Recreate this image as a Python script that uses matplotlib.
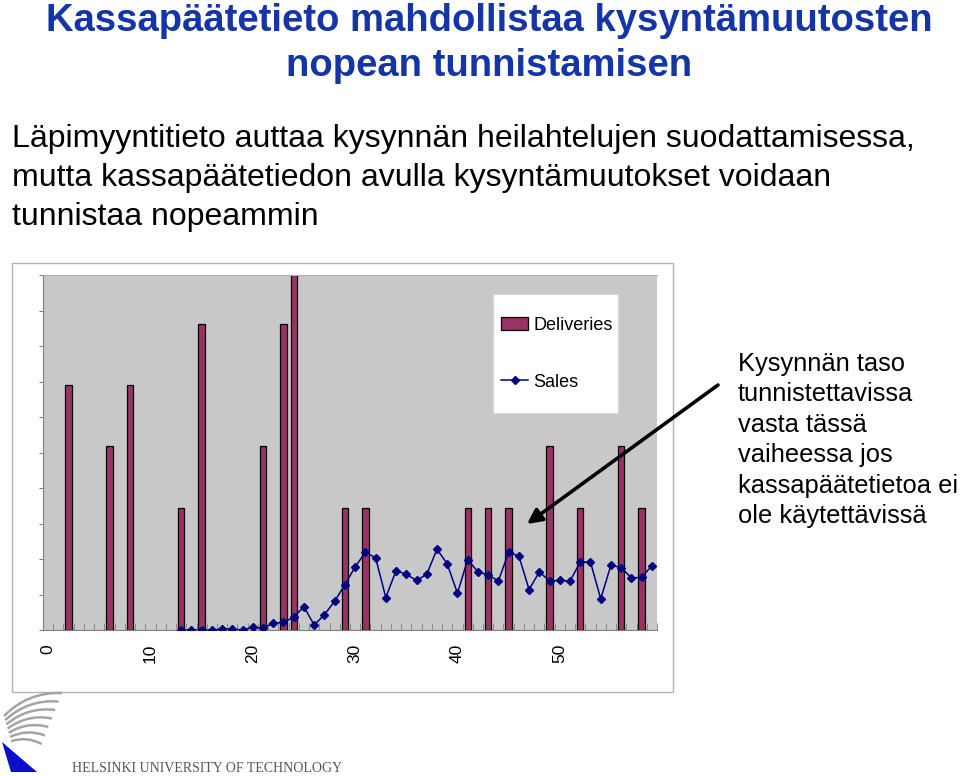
import numpy as np
import matplotlib
matplotlib.use("Agg")
import matplotlib.pyplot as plt
from matplotlib.patches import Rectangle, Polygon, PathPatch
from matplotlib.path import Path

plt.rcParams['font.family'] = ['Liberation Sans', 'DejaVu Sans']

# data
days = np.arange(60)
delivery_days = [2, 6, 8, 13, 15, 21, 23, 24, 29, 31, 41, 43, 45, 49, 52, 56, 58]
delivery_qty = [40, 30, 40, 20, 50, 30, 50, 60, 20, 20, 20, 20, 20, 30, 20, 30, 20]
sales_days = list(range(13, 60))
sales = [0, 0, 0, 0, 0.15, 0.15, 0, 0.45, 0.3, 1.1, 1.25, 2.1, 3.8, 0.8, 2.5, 4.7,
         7.4, 10.3, 12.7, 11.8, 5.3, 9.7, 9.1, 8.1, 9.1, 13.2, 10.8, 6.0, 11.5, 9.5,
         9.0, 8.0, 12.7, 12.1, 6.6, 9.5, 8.0, 8.1, 8.0, 11.1, 11.1, 5.1, 10.6, 10.2,
         8.5, 8.6, 10.5]
xtick_labels = [0, 10, 20, 30, 40, 50]

title_lines = ["Kassapäätetieto mahdollistaa kysyntämuutosten", "nopean tunnistamisen"]
intro_lines = ["Läpimyyntitieto auttaa kysynnän heilahtelujen suodattamisessa,",
               "mutta kassapäätetiedon avulla kysyntämuutokset voidaan",
               "tunnistaa nopeammin"]
note_lines = ["Kysynnän taso", "tunnistettavissa", "vasta tässä", "vaiheessa jos",
              "kassapäätetietoa ei", "ole käytettävissä"]

W, H = 960, 776
fig = plt.figure(figsize=(W / 100, H / 100), dpi=100)

def fx(px):
    return px / W

def fy(py):
    return 1 - py / H

# chart
ax = fig.add_axes([fx(43), fy(630), fx(657) - fx(43), fy(275) - fy(630)])
ax.set_facecolor('#C8C8C8')
bars = ax.bar(delivery_days, delivery_qty, width=0.62, color='#993366',
              edgecolor='black', linewidth=0.9, label='Deliveries', zorder=2)
line, = ax.plot(sales_days, sales, color='#000080', marker='D', markersize=3.8,
                linewidth=1.1, label='Sales', zorder=3)
ax.set_xlim(-0.5, 59.5)
ax.set_ylim(0, 58)
ax.set_yticks(np.linspace(0, 58, 11))
ax.set_yticklabels([])
ax.set_xticks(xtick_labels)
ax.set_xticklabels([str(v) for v in xtick_labels], rotation=90, fontsize=12.5)
ax.set_xticks(np.arange(-0.5, 60, 1), minor=True)
ax.tick_params(axis='x', which='major', length=0, pad=10)
ax.tick_params(axis='x', which='minor', direction='in', length=5, color='#808080')
ax.tick_params(axis='y', direction='out', length=3, color='#808080')
for s in ['left', 'bottom']:
    ax.spines[s].set_color('#808080')
ax.spines['top'].set_color('#B0B0B0')
ax.spines['right'].set_visible(False)

# overlay in pixel coordinates for the slide decorations
ov = fig.add_axes([0, 0, 1, 1])
ov.set_xlim(0, W)
ov.set_ylim(H, 0)
ov.axis('off')
ov.patch.set_alpha(0)

ov.add_patch(Rectangle((12, 263), 661, 429, fill=False, edgecolor='#B4B4B4', linewidth=1))
ov.add_patch(Rectangle((493, 294), 125, 119, facecolor='white', edgecolor='#D8D8D8',
                       linewidth=0.8, zorder=2))
ov.legend([bars, line], ['Deliveries', 'Sales'], loc='upper left',
          bbox_to_anchor=(501, 317), bbox_transform=ov.transData, borderaxespad=0,
          borderpad=0, frameon=False, fontsize=13, labelspacing=2.2,
          handlelength=1.5, handletextpad=0.3)

for i, t in enumerate(title_lines):
    ov.text(489, 31 + 45 * i, t, ha='center', va='baseline', fontsize=27.5,
            fontweight='bold', color='#1435A8')
for i, t in enumerate(intro_lines):
    ov.text(12, 147 + 39 * i, t, ha='left', va='baseline', fontsize=23, color='black')
for i, t in enumerate(note_lines):
    ov.text(738, 371 + 30.4 * i, t, ha='left', va='baseline', fontsize=18.4, color='black')
ov.annotate('', xy=(527, 524), xytext=(718, 385),
            arrowprops=dict(arrowstyle='-|>', lw=2.6, color='black',
                            mutation_scale=22, shrinkA=0, shrinkB=0))

# logo
for i in range(7):
    x0, y0 = 4 + i * 1.2, 716 + i * 4.2
    x1, y1 = 62 - i * 3.4, 693 + i * 8.5
    dx, dy = x1 - x0, y1 - y0
    cx, cy = (x0 + x1) / 2 + 0.22 * dy, (y0 + y1) / 2 - 0.22 * dx
    path = Path([(x0, y0), (cx, cy), (x1, y1)], [Path.MOVETO, Path.CURVE3, Path.CURVE3])
    ov.add_patch(PathPatch(path, fill=False, edgecolor='#A4A4A4', linewidth=1.8))
ov.add_patch(Polygon([(2, 742), (37, 772), (11, 772)], closed=True, facecolor='#0A10C8',
                     edgecolor='none'))
ov.text(72, 768, "HELSINKI UNIVERSITY OF TECHNOLOGY", ha='left', va='center',
        fontsize=10, family='Liberation Serif', color='#555555')

fig.savefig('out.png', dpi=100)
